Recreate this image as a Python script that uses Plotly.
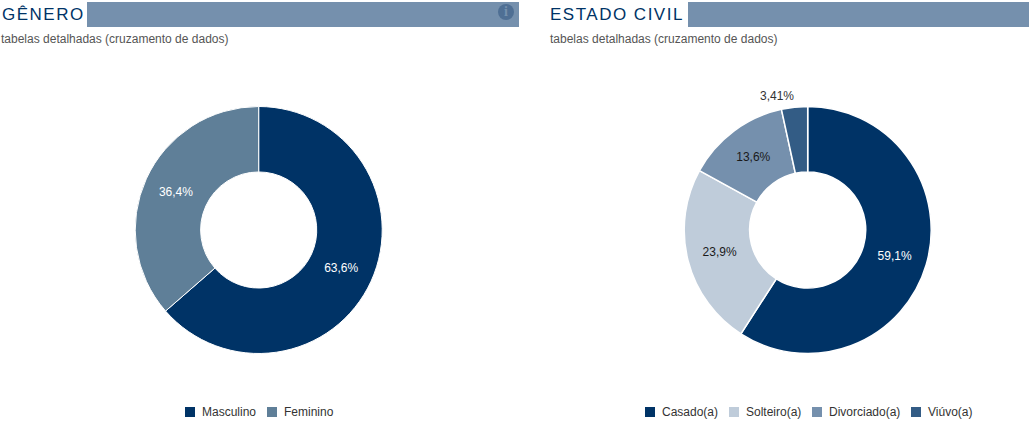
import plotly.graph_objects as go

genero_labels = ["Masculino", "Feminino"]
genero_values = [63.6, 36.4]
genero_text = ["63,6%", "36,4%"]
civil_labels = ["Casado(a)", "Solteiro(a)", "Divorciado(a)", "Viúvo(a)"]
civil_values = [59.1, 23.9, 13.6, 3.41]
civil_text = ["59,1%", "23,9%", "13,6%", "3,41%"]

W, H = 1029, 424
FONT = "Liberation Sans, Arial, sans-serif"
NAVY = "#003366"
genero_colors = [NAVY, "#5f7f98"]
civil_colors = [NAVY, "#bfccda", "#7590ad", "#335c85"]
genero_legend_x = [185, 267]
civil_legend_x = [645, 729, 812, 911]


def dom(cx, cy, r):
    return dict(x=[(cx - r) / W, (cx + r) / W], y=[1 - (cy + r) / H, 1 - (cy - r) / H])


fig = go.Figure()
fig.add_trace(go.Pie(
    labels=genero_labels, values=genero_values, text=genero_text, textinfo="text",
    domain=dom(258.7, 230, 123.5), hole=0.47, sort=False, direction="clockwise", rotation=0,
    marker=dict(colors=genero_colors, line=dict(color="#ffffff", width=1)),
    textposition="inside", insidetextorientation="horizontal",
    textfont=dict(family=FONT, size=12, color=["#ffffff", "#ffffff"]),
    hoverinfo="label+text",
))
fig.add_trace(go.Pie(
    labels=civil_labels, values=civil_values, text=civil_text, textinfo="text",
    domain=dom(807.7, 230, 123.5), hole=0.47, sort=False, direction="clockwise", rotation=0,
    marker=dict(colors=civil_colors, line=dict(color="#ffffff", width=1.5)),
    textposition=["inside", "inside", "inside", "none"], insidetextorientation="horizontal",
    textfont=dict(family=FONT, size=12, color=["#ffffff", "#1a1a1a", "#1a1a1a", "#333333"]),
    hoverinfo="label+text",
))

shapes = [
    dict(type="rect", xref="paper", yref="paper", x0=87 / W, x1=519 / W, y0=1 - 27 / H, y1=1 - 2 / H,
         fillcolor="#7590ad", line_width=0, layer="below"),
    dict(type="rect", xref="paper", yref="paper", x0=688 / W, x1=1029 / W, y0=1 - 27 / H, y1=1 - 2 / H,
         fillcolor="#7590ad", line_width=0, layer="below"),
    dict(type="circle", xref="paper", yref="paper", x0=498 / W, x1=514 / W, y0=1 - 20 / H, y1=1 - 4 / H,
         fillcolor="#4f6f94", line_width=0),
]


def ann(x, y, text, size, color, **kw):
    return dict(xref="paper", yref="paper", x=x / W, y=1 - y / H, text=text, showarrow=False,
                xanchor=kw.pop("xanchor", "left"), yanchor="middle", align="left",
                font=dict(family=kw.pop("family", FONT), size=size, color=color), **kw)


annotations = [
    ann(0, 15, "GÊNERO", 17, NAVY),
    ann(548, 15, "ESTADO CIVIL", 17, NAVY),
    ann(-1, 39, "tabelas detalhadas (cruzamento de dados)", 12, "#555555"),
    ann(548, 39, "tabelas detalhadas (cruzamento de dados)", 12, "#555555"),
    ann(506, 12, "<b>i</b>", 14, "#7590ad", xanchor="center", family="Liberation Serif, serif"),
    ann(777, 95.5, civil_text[3], 12, "#333333", xanchor="center"),
]

for labels, colors, xs in ((genero_labels, genero_colors, genero_legend_x),
                           (civil_labels, civil_colors, civil_legend_x)):
    for label, color, x in zip(labels, colors, xs):
        shapes.append(dict(type="rect", xref="paper", yref="paper", x0=x / W, x1=(x + 10) / W,
                           y0=1 - 417 / H, y1=1 - 407 / H, fillcolor=color, line_width=0))
        annotations.append(ann(x + 15, 412, label, 12, "#333333"))

fig.update_layout(
    width=W, height=H, autosize=False,
    margin=dict(l=0, r=0, t=0, b=0),
    paper_bgcolor="#ffffff", plot_bgcolor="#ffffff",
    font=dict(family=FONT, size=12, color="#333333"),
    showlegend=False,
    shapes=shapes, annotations=annotations,
)

post = """
document.body.style.margin = '0';
document.querySelectorAll('.annotation-text').forEach(function (t) {
  if (parseFloat(t.style.fontSize) === 17) { t.style.letterSpacing = '1.5px'; }
});
"""
fig.write_html("out.html", config=dict(displayModeBar=False), post_script=post)
